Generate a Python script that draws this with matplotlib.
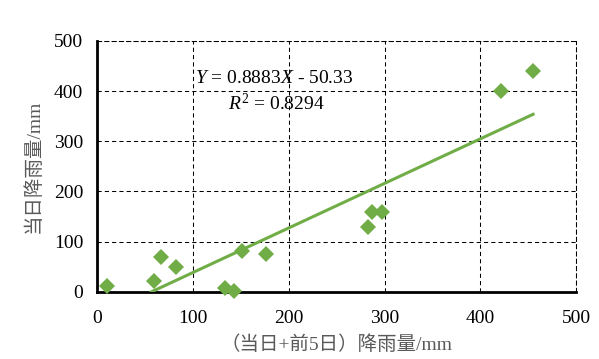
import numpy as np
import matplotlib.pyplot as plt

# (当日+前5日) rainfall vs same-day rainfall, mm
x_total = [10, 59, 67, 82, 133, 143, 151, 176, 283, 287, 297, 422, 455]
y_day = [12, 22, 70, 50, 7, 2, 82, 76, 130, 159, 159, 400, 440]

slope, intercept = 0.8883, -50.33
r2 = 0.8294

xticks = [0, 100, 200, 300, 400, 500]
yticks = [0, 100, 200, 300, 400, 500]

plt.rcParams['mathtext.fontset'] = 'custom'
plt.rcParams['mathtext.rm'] = 'Liberation Serif'
plt.rcParams['mathtext.it'] = 'Liberation Serif:italic'
serif = ['Liberation Serif', 'Noto Sans CJK SC']
green = '#70AD47'
grey = '#595959'
fs = 14

fig = plt.figure(figsize=(5.99, 3.59), dpi=100)
ax = fig.add_axes([0.162, 0.187, 0.800, 0.699])

# trendline from x-intercept to the largest x
x0 = -intercept / slope
xl = np.array([x0, max(x_total)])
ax.plot(xl, slope * xl + intercept, color=green, lw=2.2, zorder=3)
ax.plot(x_total, y_day, 'D', color=green, markersize=8.5, markeredgewidth=0,
        zorder=4, clip_on=False)

ax.set_xlim(0, 500)
ax.set_ylim(0, 500)
ax.set_xticks(xticks)
ax.set_yticks(yticks)
dash = (0, (4, 3))
ax.grid(True, color='black', linestyle=dash, lw=0.75)
ax.set_axisbelow(True)
for s in ['top', 'right']:
    ax.spines[s].set_linestyle(dash)
    ax.spines[s].set_linewidth(0.75)
for s in ['left', 'bottom']:
    ax.spines[s].set_linewidth(2)
ax.tick_params(length=0, labelsize=fs)
ax.tick_params(axis='x', pad=13)
ax.tick_params(axis='y', pad=10)
for lab in ax.get_xticklabels() + ax.get_yticklabels():
    lab.set_family(serif)

ax.set_xlabel('（当日+前5日）降雨量/mm', family=serif, fontsize=fs, color=grey, labelpad=6)
ax.set_ylabel('当日降雨量/mm', family=serif, fontsize=fs, color=grey, labelpad=8)

ax.text(102, 426, r'$Y$ = %.4f$X$ - %.2f' % (slope, -intercept), fontsize=fs,
        family=serif, va='center', ha='left')
ax.text(137, 376, r'$R^2$ = %.4f' % r2, fontsize=fs, family=serif, va='center', ha='left')

fig.savefig('out.png', dpi=100)
